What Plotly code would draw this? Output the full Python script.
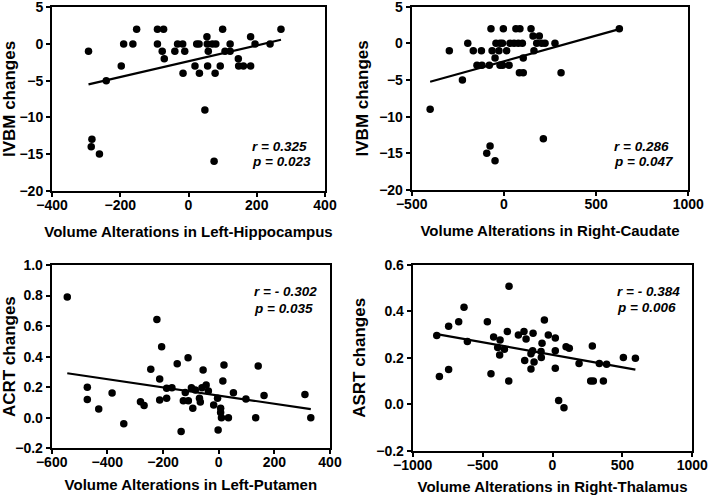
import numpy as np
import plotly.graph_objects as go

# ---------------- data ----------------
p1_x = [-293, -283, -285, -261, -241, -197, -190, -163, -152, -91, -73, -91, -77, -71, -40,
        -32, -17, -11, -16, 19, 24, 31, 32, 48, 54, 55, 58, 56, 70, 80,
        78, 75, 93, 100, 107, 122, 122, 146, 147, 161, 182, 182, 195, 239, 271]
p1_y = [-1, -13, -14, -15, -5, -3, 0, 0, 2, 2, 2, 0, -1, -2, -1,
        0, 0, -1, -4, -3, 0, 0, -4, -9, 1, 0, -1, -3, 0, 0,
        -4, -16, -3, 2, -1, 0, -1, -2, -3, -3, -3, 1, 0, 0, 2]

p2_x = [-400, -296, -225, -196, -166, -146, -122, -119, -79, -70, -64, -75, -93, -48, -48,
        -43, -27, -21, -21, -3, -8, -7, 15, 28, 33, 65, 87, 147, 55, 78,
        100, 84, 105, 105, 158, 163, 192, 178, 205, 223, 214, 277, 310, 626]
p2_y = [-9, -1, -5, 0, -1, -3, -1, -3, -3, 2, -1, -14, -15, -16, -2,
        0, -1, 0, -3, 2, 0, -3, -1, -3, 0, 2, 2, 2, 0, 0,
        0, -4, -4, -2, 1, -1, 1, 0, 0, 0, -13, 0, -4, 2]

p3_x = [-544, -472, -472, -431, -383, -341, -281, -268, -244, -222, -212, -205, -212, -187, -187,
        -168, -149, -135, -127, -120, -110, -109, -98, -93, -84, -69, -66, -60, -56, -45,
        -37, -18, -4, -2, 7, 7, 10, 15, 19, 35, 53, 98, 133, 142, 163, 310, 331]
p3_y = [0.79, 0.20, 0.12, 0.057, 0.162, -0.04, 0.105, 0.081, 0.317, 0.644, 0.254, 0.465, 0.116, 0.193, 0.127,
        0.197, 0.354, -0.09, 0.112, 0.166, 0.393, 0.112, 0.197, 0.062, 0.182, 0.127, 0.103, 0.197, 0.313, 0.214,
        0.175, 0.084, 0.127, -0.08, 0.062, 0.034, 0.0, 0.241, 0.345, 0.0, 0.164, 0.123, 0.0, 0.339, 0.145, 0.153, 0.0]

p4_x = [-828, -809, -743, -743, -671, -633, -609, -466, -440, -421, -392, -375, -378, -344, -323,
        -313, -311, -244, -204, -199, -189, -154, -154, -142, -139, -132, -82, -75, -80, -58,
        -30, 20, 20, 20, 44, 82, 97, 120, 190, 285, 273, 292, 335, 364, 387, 507, 593]
p4_y = [0.296, 0.12, 0.336, 0.15, 0.356, 0.418, 0.27, 0.356, 0.132, 0.29, 0.245, 0.277, 0.212, 0.237, 0.313,
        0.1, 0.508, 0.298, 0.313, 0.189, 0.281, 0.152, 0.218, 0.231, 0.306, 0.182, 0.227, 0.263, 0.202, 0.363,
        0.298, 0.286, 0.231, 0.155, 0.016, -0.015, 0.248, 0.241, 0.176, 0.251, 0.1, 0.1, 0.176, 0.1, 0.172, 0.201, 0.198]

x_titles = ["Volume Alterations in Left-Hippocampus", "Volume Alterations in Right-Caudate",
            "Volume Alterations in Left-Putamen", "Volume Alterations in Right-Thalamus"]
y_titles = ["IVBM changes", "IVBM changes", "ACRT changes", "ASRT changes"]
r_texts = ["r = 0.325", "r = 0.286", "r = - 0.302", "r = - 0.384"]
p_texts = ["p = 0.023", "p = 0.047", "p = 0.035", "p = 0.006"]

x_ranges = [[-400, 400], [-500, 1000], [-600, 400], [-1000, 1000]]
x_dticks = [200, 500, 200, 500]
y_ranges = [[-20, 5], [-20, 5], [-0.2, 1.0], [-0.2, 0.6]]
y_dticks = [5, 5, 0.2, 0.2]
y_formats = ["", "", ".1f", ".1f"]

# ---------------- layout geometry (pixels) ----------------
W, H = 709, 499
boxes = [  # left, right, top, bottom in px
    (52, 325, 7.3, 190.7),
    (411.7, 688.3, 6.7, 190),
    (51.7, 330, 265, 448.3),
    (412.7, 692.3, 265, 450.7),
]
x_standoffs = [15, 15, 10, 10]
ann_pos = [(250, 146, 161), (612, 146, 161), (252, 291, 308), (615, 291, 307)]

FONT = "Liberation Sans, Arial, sans-serif"
fig = go.Figure()
series = [(p1_x, p1_y), (p2_x, p2_y), (p3_x, p3_y), (p4_x, p4_y)]

for i, (xs, ys) in enumerate(series):
    xa = "x" if i == 0 else f"x{i+1}"
    ya = "y" if i == 0 else f"y{i+1}"
    fig.add_trace(go.Scatter(x=xs, y=ys, mode="markers", xaxis=xa, yaxis=ya,
                             marker=dict(color="black", size=7.5), showlegend=False,
                             hoverinfo="skip"))
    xarr = np.array(xs, dtype=float)
    yarr = np.array(ys, dtype=float)
    k, b = np.polyfit(xarr, yarr, 1)
    lx = [xarr.min(), xarr.max()]
    ly = [k * v + b for v in lx]
    fig.add_trace(go.Scatter(x=lx, y=ly, mode="lines", xaxis=xa, yaxis=ya,
                             line=dict(color="black", width=2.2), showlegend=False,
                             hoverinfo="skip"))

    l, r, t, bt = boxes[i]
    common = dict(showline=True, linewidth=2, linecolor="black", mirror=True,
                  ticks="outside", ticklen=4, tickwidth=2, tickcolor="black",
                  showgrid=False, zeroline=False, automargin=False,
                  ticklabeloverflow="allow",
                  tickfont=dict(family=FONT, size=14, color="black", weight="bold"))
    xkey = "xaxis" if i == 0 else f"xaxis{i+1}"
    ykey = "yaxis" if i == 0 else f"yaxis{i+1}"
    fig.layout[xkey] = dict(domain=[l / W, r / W], anchor=ya, range=x_ranges[i],
                            dtick=x_dticks[i], tick0=0, ticklabelstandoff=-4,
                            title=dict(text=x_titles[i], standoff=x_standoffs[i],
                                       font=dict(family=FONT, size=15, color="black", weight="bold")),
                            **common)
    fig.layout[ykey] = dict(domain=[1 - bt / H, 1 - t / H], anchor=xa, range=y_ranges[i],
                            dtick=y_dticks[i], tick0=0, tickformat=y_formats[i],
                            title=dict(text=y_titles[i], standoff=6,
                                       font=dict(family=FONT, size=17, color="black", weight="bold")),
                            **common)
    ax, ry, py = ann_pos[i]
    for txt, yy in ((r_texts[i], ry), (p_texts[i], py)):
        fig.add_annotation(text=f"<b><i>{txt}</i></b>", xref="paper", yref="paper",
                           x=ax / W, y=1 - yy / H, xanchor="left", yanchor="middle",
                           showarrow=False, font=dict(family=FONT, size=13.5, color="black"))

fig.update_layout(width=W, height=H, margin=dict(l=0, r=0, t=0, b=0, autoexpand=False),
                  paper_bgcolor="white", plot_bgcolor="white", showlegend=False)
fig.write_html("out.html", config={"displayModeBar": False},
               post_script="document.body.style.margin='0';")
